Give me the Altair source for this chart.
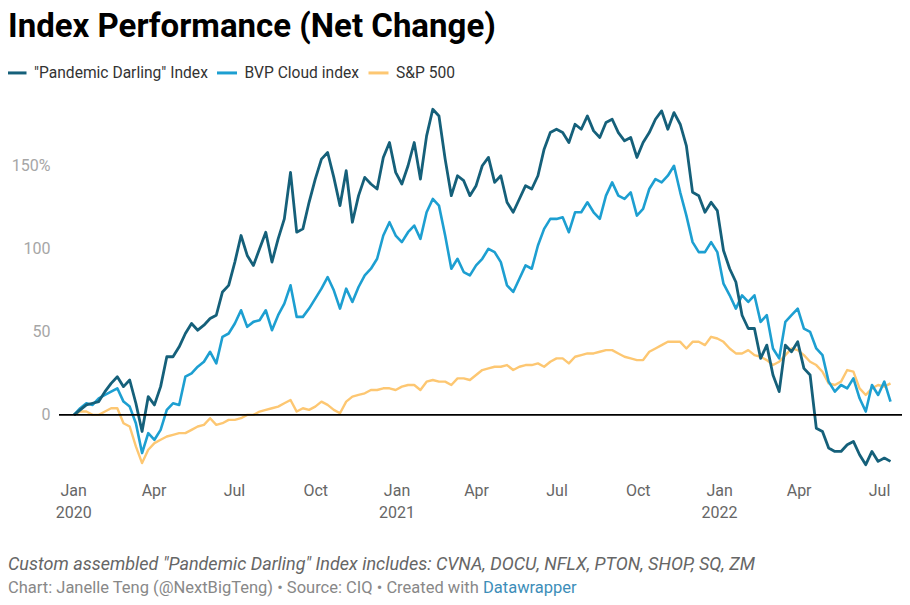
import altair as alt
import pandas as pd

# ---- data (weekly samples starting 2020-01-02) ----
START = "2020-01-02"
N_WEEKS = 133

SERIES = ['"Pandemic Darling" Index', "BVP Cloud index", "S&P 500"]
COLORS = ["#15607a", "#1d9fd1", "#fdc772"]

pandemic = [
    0, 3, 6, 7, 8, 14, 19, 23, 17, 21, 7, -10, 11, 6, 17, 35, 35, 41, 49, 55, 51,
    54, 58, 60, 74, 78, 92, 108, 96, 90, 100, 110, 92, 106, 118, 146, 110, 112, 128, 142, 154, 158, 143,
    126, 147, 116, 132, 143, 139, 136, 155, 164, 146, 139, 150, 164, 142, 168, 184, 180, 154, 132, 144, 141,
    132, 138, 150, 155, 140, 144, 128, 122, 130, 138, 136, 144, 160, 170, 172, 170, 164, 175, 172, 180, 171,
    167, 176, 178, 170, 165, 167, 155, 164, 170, 178, 183, 172, 182, 175, 162, 134, 132, 122, 128, 123,
    99, 88, 80, 60, 52, 52, 34, 42, 24, 14, 42, 38, 44, 28, 24, -8, -10, -20, -22, -22, -18, -16, -24, -30, -22, -28, -26, -28,
]
cloud = [
    0, 4, 7, 6, 10, 12, 14, 16, 8, 5, -5, -23, -11, -15, -9, 3, 7, 6, 23, 25, 29,
    32, 38, 31, 47, 49, 55, 63, 53, 56, 57, 63, 51, 60, 67, 78, 59, 59, 64, 70, 76, 83, 75,
    64, 76, 68, 77, 84, 88, 94, 108, 116, 108, 104, 110, 114, 106, 122, 130, 126, 108, 88, 94, 86,
    84, 90, 94, 100, 98, 92, 78, 74, 82, 90, 88, 102, 112, 118, 118, 119, 110, 122, 122, 128, 122,
    118, 132, 140, 132, 130, 134, 120, 124, 136, 142, 140, 144, 150, 134, 120, 104, 98, 98, 104, 98,
    79, 72, 64, 72, 68, 72, 56, 60, 40, 34, 56, 60, 64, 52, 50, 40, 36, 20, 14, 18, 16, 22, 10, 2, 18, 12, 20, 8,
]
sp500 = [
    0, 2, 2, 0, 0, 2, 4, 4, -5, -7, -19, -29, -21, -17, -15, -13, -12, -11, -11, -9, -7,
    -6, -2, -6, -5, -3, -3, -2, 0, 0, 2, 3, 4, 5, 7, 9, 2, 4, 3, 5, 8, 6, 3,
    1, 8, 11, 12, 13, 15, 15, 16, 16, 15, 17, 18, 18, 15, 20, 21, 20, 20, 18, 22, 22,
    21, 24, 27, 28, 29, 29, 30, 27, 29, 30, 30, 31, 29, 32, 34, 34, 31, 35, 36, 37, 37,
    38, 39, 39, 37, 35, 34, 33, 33, 38, 40, 42, 44, 44, 44, 40, 44, 44, 42, 47, 46,
    44, 40, 37, 37, 39, 36, 35, 33, 30, 32, 36, 40, 39, 36, 32, 30, 26, 19, 18, 20, 27, 26, 16, 12, 16, 18, 17, 19,
]

Y_TICKS = [0, 50, 100, 150]
X_TICKS = ["2020-01-01", "2020-04-01", "2020-07-01", "2020-10-01",
           "2021-01-01", "2021-04-01", "2021-07-01", "2021-10-01",
           "2022-01-01", "2022-04-01", "2022-07-01"]

TITLE = "Index Performance (Net Change)"
NOTE = 'Custom assembled "Pandemic Darling" Index includes: CVNA, DOCU, NFLX, PTON, SHOP, SQ, ZM'
CREDIT = "Chart: Janelle Teng (@NextBigTeng) • Source: CIQ • Created with"
CREDIT_LINK = "Datawrapper"

# ---- table ----
dates = pd.date_range(START, periods=N_WEEKS, freq="7D").strftime("%Y-%m-%d").tolist()
frames = []
for name, vals in zip(SERIES, [pandemic, cloud, sp500]):
    frames.append(pd.DataFrame({"date": dates, "value": vals, "series": name}))
df = pd.concat(frames, ignore_index=True)

FONT = "Roboto"


def dt(s):
    y, m, d = (int(p) for p in s.split("-"))
    return alt.DateTime(year=y, month=m, date=d, utc=True)


x_enc = alt.X(
    "date:T",
    scale=alt.Scale(type="utc", domain=[dt("2019-12-16"), dt("2022-07-27")]),
    axis=alt.Axis(
        title=None, values=[dt(s) for s in X_TICKS], grid=False, domain=False, ticks=False,
        labelExpr="utcmonth(datum.value) == 0 ? [utcFormat(datum.value, '%b'), utcFormat(datum.value, '%Y')] : utcFormat(datum.value, '%b')",
        labelFont=FONT, labelFontSize=16, labelColor="#666666", labelPadding=4,
        labelLineHeight=22, labelAlign="center", labelBaseline="top",
    ),
)
y_enc = alt.Y(
    "value:Q",
    scale=alt.Scale(domain=[-38, 192], nice=False, zero=False),
    axis=alt.Axis(
        title=None, values=Y_TICKS, grid=False, domain=False, ticks=False,
        labelExpr="datum.value == 150 ? '150%' : datum.label",
        labelFont=FONT, labelFontSize=16, labelColor="#a6a6a6", labelPadding=9,
        labelBaseline="middle",
    ),
)
color_enc = alt.Color(
    "series:N",
    scale=alt.Scale(domain=SERIES, range=COLORS),
    legend=alt.Legend(
        title=None, orient="none", direction="horizontal", legendX=-54, legendY=-35,
        symbolType="stroke", symbolStrokeWidth=3, symbolSize=400,
        labelFont=FONT, labelFontSize=15.6, labelColor="#333333", labelLimit=0,
        labelOffset=6, columnPadding=2.5,
    ),
)

widths = {SERIES[0]: 2.8, SERIES[1]: 2.6, SERIES[2]: 2.4}
layers = []
for name in [SERIES[2], SERIES[1], SERIES[0]]:
    layers.append(
        alt.Chart(df)
        .transform_filter(alt.datum.series == name)
        .mark_line(strokeWidth=widths[name], strokeJoin="round")
        .encode(x=x_enc, y=y_enc, color=color_enc)
    )

zero = alt.Chart(pd.DataFrame({"value": [0]})).mark_rule(color="#000000", strokeWidth=1.6).encode(
    y=alt.Y("value:Q")
)

note = alt.Chart(pd.DataFrame({"t": [NOTE]})).mark_text(
    align="left", baseline="middle", font=FONT, fontSize=18, fontStyle="italic", color="#666666"
).encode(x=alt.value(-51), y=alt.value(469), text="t:N")

credit = alt.Chart(pd.DataFrame({"t": [CREDIT]})).mark_text(
    align="left", baseline="middle", font=FONT, fontSize=16.5, color="#888888"
).encode(x=alt.value(-51), y=alt.value(492), text="t:N")

link = alt.Chart(pd.DataFrame({"t": [CREDIT_LINK]})).mark_text(
    align="left", baseline="middle", font=FONT, fontSize=16.5, color="#3d8eb9"
).encode(x=alt.value(424), y=alt.value(492), text="t:N")

chart = (
    alt.layer(*layers, zero, note, credit, link)
    .properties(
        width=843,
        height=382,
        padding={"left": 51, "top": 88, "right": 0, "bottom": 119},
        autosize=alt.AutoSizeParams(type="none"),
        title=alt.TitleParams(
            TITLE, anchor="start", frame="group", dx=-51, font=FONT, fontSize=33,
            fontWeight="bold", color="#000000", offset=17,
        ),
    )
    .configure(background="white")
    .configure_view(stroke=None)
)

chart.save("out.html", embed_options={"renderer": "svg", "actions": False})
